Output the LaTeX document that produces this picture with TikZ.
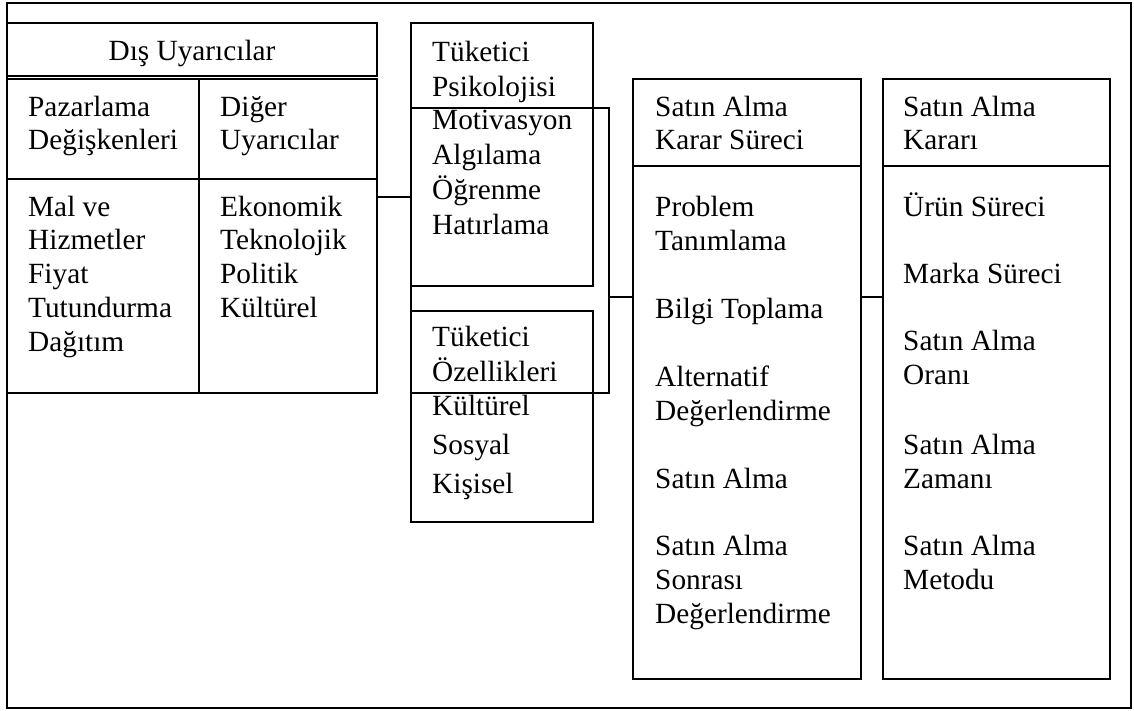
\documentclass[tikz,border=0pt]{standalone}
\usepackage{fontspec}
\setmainfont{Liberation Serif}
\usetikzlibrary{fit}
\begin{document}
\begin{tikzpicture}[x=1pt,y=-1pt,
  box/.style={draw, line width=1.6pt, inner sep=0pt, outer sep=0pt},
  link/.style={line width=1.6pt},
  txt/.style={anchor=base west, inner sep=0pt, font=\fontsize{29.3}{34}\selectfont}]
\useasboundingbox (0,0) rectangle (1134,711);
% outer frame
\node[box, fit={(7,3) (1131,708)}] (frame) {};
% Dis Uyaricilar table
\node[box, fit={(7,23) (377,76)}] (dishead) {};
\node[box, fit={(7,79) (199,179)}] (pazhead) {};
\node[box, fit={(199,79) (377,179)}] (dighead) {};
\node[box, fit={(7,179) (199,393)}] (pazbody) {};
\node[box, fit={(199,179) (377,393)}] (digbody) {};
% consumer boxes
\node[box, fit={(411,23) (593,286)}] (psy) {};
\node[box, fit={(411,311) (593,522)}] (ozl) {};
\node[box, fit={(411,108) (609,393)}] (grp) {};
% decision process
\node[box, fit={(633,79) (861,166)}] (karh) {};
\node[box, fit={(633,166) (861,679)}] (karb) {};
\node[box, fit={(883,79) (1110,166)}] (kdh) {};
\node[box, fit={(883,166) (1110,679)}] (kdb) {};
% connectors
\coordinate (ya) at (0,197);
\coordinate (yb) at (0,297);
\draw[link] (digbody.east |- ya) -- (psy.west |- ya);
\draw[link] (grp.east |- yb) -- (karb.west |- yb);
\draw[link] (karb.east |- yb) -- (kdb.west |- yb);
% texts
\node[anchor=base, inner sep=0pt, font=\fontsize{29.3}{34}\selectfont] (dtitle) at (192,61) {Dış Uyarıcılar};
\foreach \t/\y [count=\i] in {Pazarlama/117, Değişkenleri/150, Mal ve/217, Hizmetler/250, Fiyat/283, Tutundurma/317, Dağıtım/351}
  \node[txt] (pz\i) at (28,\y) {\t};
\foreach \t/\y [count=\i] in {Diğer/117, Uyarıcılar/150, Ekonomik/217, Teknolojik/250, Politik/283, Kültürel/317}
  \node[txt] (dg\i) at (220,\y) {\t};
\foreach \t/\y [count=\i] in {Tüketici/62, Psikolojisi/97, Motivasyon/130, Algılama/165, Öğrenme/200, Hatırlama/235}
  \node[txt] (ps\i) at (432,\y) {\t};
\foreach \t/\y [count=\i] in {Tüketici/346, Özellikleri/381, Kültürel/415, Sosyal/454, Kişisel/493}
  \node[txt] (oz\i) at (432,\y) {\t};
\foreach \t/\y [count=\i] in {Satın Alma/117, Karar Süreci/150, Problem/217, Tanımlama/251, Bilgi Toplama/318, Alternatif/386, Değerlendirme/420, Satın Alma/488, Satın Alma/555, Sonrası/589, Değerlendirme/623}
  \node[txt] (kr\i) at (655,\y) {\t};
\foreach \t/\y [count=\i] in {Satın Alma/117, Kararı/150, Ürün Süreci/217, Marka Süreci/283, Satın Alma/350, Oranı/384, Satın Alma/454, Zamanı/488, Satın Alma/555, Metodu/589}
  \node[txt] (kd\i) at (903,\y) {\t};
\end{tikzpicture}
\end{document}
